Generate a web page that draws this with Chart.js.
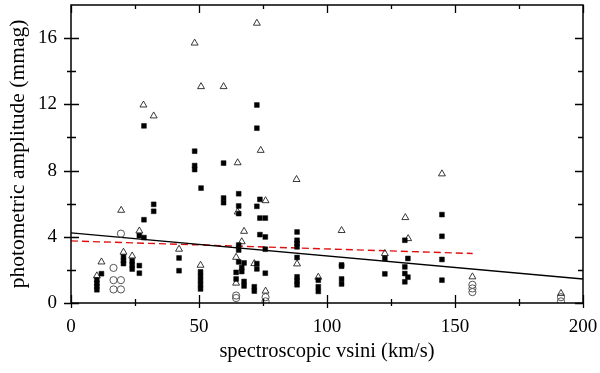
<!DOCTYPE html>
<html>
<head>
<meta charset="utf-8">
<script src="https://cdn.jsdelivr.net/npm/chart.js@4.4.1/dist/chart.umd.min.js"></script>
<style>
  html, body { margin: 0; padding: 0; background: #fff; }
  #wrap { width: 600px; height: 373px; }
</style>
</head>
<body>
<div id="wrap"><canvas id="ampChart"></canvas></div>
<script>
// filled squares
const sqVsini = [28.5, 28.5, 28.5, 48.3, 48.3, 48.3, 50.8, 59.6, 59.6, 59.6,
  65.5, 65.5, 65.5, 65.5, 65.5, 65.5, 72.6, 72.6, 72.6, 72.6, 72.6,
  73.8, 73.8, 73.8, 75.9, 75.9, 75.9, 75.9, 32.3, 32.3, 26.7, 26.7, 26.7,
  42.2, 42.2, 11.9, 10.1, 10.1, 10.1, 10.1, 20.5, 20.5, 20.5, 23.9, 23.9, 23.9,
  50.6, 50.6, 50.6, 50.6, 50.6, 66.7, 66.7, 67.6, 67.6, 67.6, 64.5, 64.5, 71.6, 71.6,
  88.3, 88.3, 88.3, 88.3, 88.3, 88.3, 88.3, 88.3, 96.6, 96.6, 96.6,
  105.7, 105.7, 105.7, 105.7, 122.6, 122.6, 130.4, 130.4, 130.4, 130.4, 131.6, 131.6,
  144.9, 144.9, 144.9, 144.9];
const sqAmp = [10.7, 5.03, 3.95, 9.17, 8.3, 8.06, 6.94, 8.45, 6.34, 6.06,
  6.6, 5.86, 5.4, 3.5, 3.2, 2.48, 11.96, 10.56, 5.84, 2.38, 2.06,
  6.26, 5.13, 4.13, 5.13, 3.99, 3.25, 1.8, 5.96, 5.54, 4.07, 2.26, 1.8,
  2.72, 1.95, 1.77, 1.4, 1.2, 1.0, 0.8, 2.78, 2.55, 2.38, 2.55, 2.3, 2.05,
  1.88, 1.62, 1.36, 1.1, 0.85, 2.14, 1.9, 2.42, 1.3, 1.03, 1.85, 1.45, 0.98, 0.72,
  4.29, 3.79, 3.6, 3.39, 2.75, 1.58, 1.34, 1.1, 1.38, 0.98, 0.7,
  2.3, 2.22, 1.45, 1.15, 2.69, 1.76, 3.79, 2.18, 1.78, 1.28, 2.69, 1.56,
  5.34, 4.03, 2.63, 1.38];

// open triangles
const triVsini = [48.3, 50.8, 59.6, 28.3, 32.3, 72.6, 74.1, 65.1, 65.1, 76.0, 76.0,
  19.6, 26.7, 42.2, 11.9, 10.1, 20.5, 23.9, 50.6, 67.6, 66.7, 64.5, 64.5, 71.6,
  88.1, 88.3, 96.6, 105.7, 122.6, 130.6, 131.7, 144.9, 156.8, 191.4];
const triAmp = [15.7, 13.07, 13.07, 11.96, 11.3, 16.9, 9.22, 8.47, 5.5, 6.18, 0.72,
  5.6, 4.35, 3.25, 2.48, 1.64, 3.07, 2.84, 2.28, 4.33, 3.7, 2.76, 1.2, 2.38,
  7.46, 2.36, 1.56, 4.38, 2.99, 5.16, 3.89, 7.8, 1.58, 0.58];

// open circles
const cirVsini = [19.5, 19.5, 19.5, 16.6, 16.6, 16.6, 64.5, 64.5, 76.0, 76.0,
  156.8, 156.8, 156.8, 191.4, 191.4];
const cirAmp = [4.19, 1.38, 0.82, 2.12, 1.38, 0.82, 0.45, 0.3, 0.35, 0.1,
  1.1, 0.88, 0.66, 0.35, 0.1];

// fitted lines
const fitAllX = [0, 200];
const fitAllY = [4.23, 1.45];
const fitRedX = [0, 156.9];
const fitRedY = [3.75, 2.99];

const xTicks = [0, 50, 100, 150, 200];
const yTicks = [0, 4, 8, 12, 16];
const xMinor = [25, 75, 125, 175];
const yMinor = [2, 6, 10, 14];

function pairs(xs, ys) {
  return xs.map((x, i) => ({ x: x, y: ys[i] }));
}

const serif = "'Liberation Serif', 'Times New Roman', serif";

// frame with ticks crossing the axes
const framePlugin = {
  id: "frame",
  afterDraw(chart) {
    const ctx = chart.ctx;
    const a = chart.chartArea;
    const xs = chart.scales.x;
    const ys = chart.scales.y;
    ctx.save();
    ctx.strokeStyle = "#000";
    ctx.lineWidth = 1.5;
    ctx.strokeRect(a.left, a.top, a.right - a.left, a.bottom - a.top);
    ctx.lineWidth = 1.3;
    ctx.beginPath();
    const xt = (v, inL, outL) => {
      const p = Math.round(xs.getPixelForValue(v)) + 0.5;
      ctx.moveTo(p, a.bottom + outL); ctx.lineTo(p, a.bottom - inL);
      ctx.moveTo(p, a.top); ctx.lineTo(p, a.top + inL);
    };
    const yt = (v, inL, outL) => {
      const p = Math.round(ys.getPixelForValue(v)) + 0.5;
      ctx.moveTo(a.left - outL, p); ctx.lineTo(a.left + inL, p);
      ctx.moveTo(a.right, p); ctx.lineTo(a.right - inL, p);
    };
    xTicks.forEach(v => xt(v, 8, 5));
    xMinor.forEach(v => xt(v, 4, 3));
    yTicks.forEach(v => yt(v, 8, 7));
    yMinor.forEach(v => yt(v, 5, 4));
    ctx.stroke();
    ctx.restore();
  }
};

function noPad(s) {
  s.paddingTop = 0;
  s.paddingBottom = 0;
  s.paddingLeft = 0;
  s.paddingRight = 0;
}

new Chart(document.getElementById("ampChart"), {
  type: "scatter",
  data: {
    datasets: [
      {
        label: "squares",
        data: pairs(sqVsini, sqAmp),
        pointStyle: "rect",
        pointRadius: 3.4,
        backgroundColor: "#000",
        borderColor: "#000",
        borderWidth: 0.5
      },
      {
        label: "triangles",
        data: pairs(triVsini, triAmp),
        pointStyle: "triangle",
        pointRadius: 4,
        backgroundColor: "rgba(255,255,255,0)",
        borderColor: "#222",
        borderWidth: 0.9
      },
      {
        label: "circles",
        data: pairs(cirVsini, cirAmp),
        pointStyle: "circle",
        pointRadius: 3.6,
        backgroundColor: "rgba(255,255,255,0)",
        borderColor: "#555",
        borderWidth: 1
      },
      {
        type: "line",
        label: "fit",
        data: pairs(fitAllX, fitAllY),
        borderColor: "#000",
        borderWidth: 1.3,
        pointRadius: 0,
        fill: false
      },
      {
        type: "line",
        label: "fit red",
        data: pairs(fitRedX, fitRedY),
        borderColor: "#e01010",
        borderWidth: 1.4,
        borderDash: [7, 4],
        pointRadius: 0,
        fill: false
      }
    ]
  },
  options: {
    responsive: true,
    maintainAspectRatio: false,
    animation: false,
    layout: { padding: { left: 0, right: 17, top: 4, bottom: 0 } },
    plugins: {
      legend: { display: false },
      tooltip: { enabled: false }
    },
    scales: {
      x: {
        type: "linear",
        min: 0,
        max: 200,
        afterBuildTicks: s => { s.ticks = xTicks.map(v => ({ value: v })); },
        afterFit: s => { s.height = 70; noPad(s); },
        grid: { display: false, drawTicks: false },
        border: { display: false },
        ticks: { color: "#000", padding: 13, font: { family: serif, size: 19 } },
        title: {
          display: true,
          text: "spectroscopic vsini (km/s)",
          color: "#000",
          font: { family: serif, size: 20.5 },
          padding: { top: 0, bottom: 9 }
        }
      },
      y: {
        type: "linear",
        min: 0,
        max: 18,
        afterBuildTicks: s => { s.ticks = yTicks.map(v => ({ value: v })); },
        afterFit: s => { s.width = 71; noPad(s); },
        grid: { display: false, drawTicks: false },
        border: { display: false },
        ticks: { color: "#000", padding: 14, font: { family: serif, size: 19 } },
        title: {
          display: true,
          text: "photometric amplitude (mmag)",
          color: "#000",
          font: { family: serif, size: 21.5 },
          padding: { top: 5, bottom: 0 }
        }
      }
    }
  },
  plugins: [framePlugin]
});
</script>
</body>
</html>
